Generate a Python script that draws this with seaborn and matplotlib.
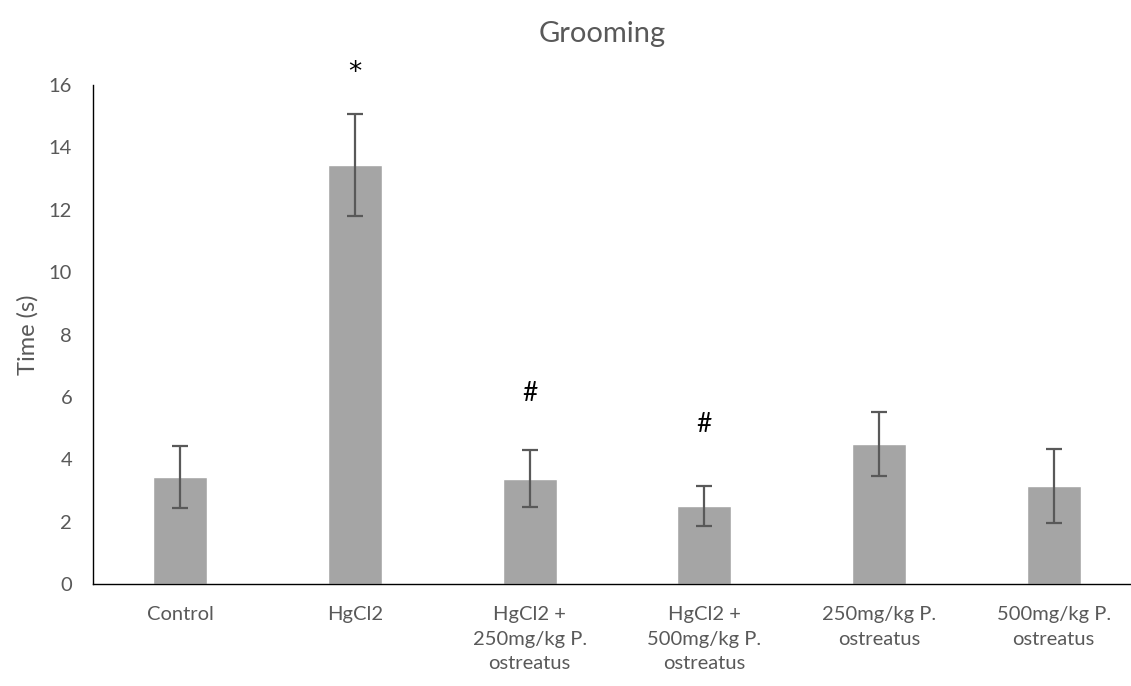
import matplotlib
matplotlib.use("Agg")
import matplotlib.pyplot as plt
import seaborn as sns
import pandas as pd

groups = [
    "Control",
    "HgCl2",
    "HgCl2 +\n250mg/kg P.\nostreatus",
    "HgCl2 +\n500mg/kg P.\nostreatus",
    "250mg/kg P.\nostreatus",
    "500mg/kg P.\nostreatus",
]
means = [3.43, 13.43, 3.38, 2.50, 4.50, 3.13]
errors = [1.00, 1.64, 0.91, 0.64, 1.03, 1.19]
# significance markers: (group index, symbol, height)
markers = [(1, "*", 16.4), (2, "#", 6.1), (3, "#", 5.1)]

sns.set_theme(style="white")
plt.rcParams["font.family"] = ["Lato", "DejaVu Sans"]

text_grey = "#595959"
bar_grey = "#A5A5A5"

df = pd.DataFrame({"group": groups, "time": means})

fig = plt.figure(figsize=(11.31, 6.86), dpi=100)
ax = fig.add_axes([93 / 1131, 102 / 686, 1048 / 1131, 499 / 686])

sns.barplot(data=df, x="group", y="time", color=bar_grey, saturation=1,
            width=0.31, errorbar=None, ax=ax)
ax.errorbar(range(len(groups)), means, yerr=errors, fmt="none",
            ecolor=text_grey, elinewidth=1.6, capsize=6, capthick=1.6)

for idx, sym, h in markers:
    fam = ["DejaVu Sans"] if sym == "*" else ["Lato"]
    ax.text(idx, h, sym, ha="center", va="center", fontsize=19,
            color="black", family=fam, clip_on=False)

ax.set_xlim(-0.5, len(groups) - 0.5)
ax.set_ylim(0, 16)
ax.set_yticks(range(0, 17, 2))
ax.tick_params(axis="both", length=0, labelsize=14.5, labelcolor=text_grey)
ax.tick_params(axis="x", pad=16)
ax.tick_params(axis="y", pad=15)
for lbl in ax.get_xticklabels():
    lbl.set_linespacing(1.52)

ax.set_xlabel("")
ax.set_ylabel("Time (s)", fontsize=17, color=text_grey, labelpad=7)
ax.set_title("Grooming", fontsize=21, color=text_grey, pad=31, x=0.486)

for side in ["top", "right"]:
    ax.spines[side].set_visible(False)
for side in ["left", "bottom"]:
    ax.spines[side].set_color("black")
    ax.spines[side].set_linewidth(1.0)

fig.savefig("out.png", dpi=100)
